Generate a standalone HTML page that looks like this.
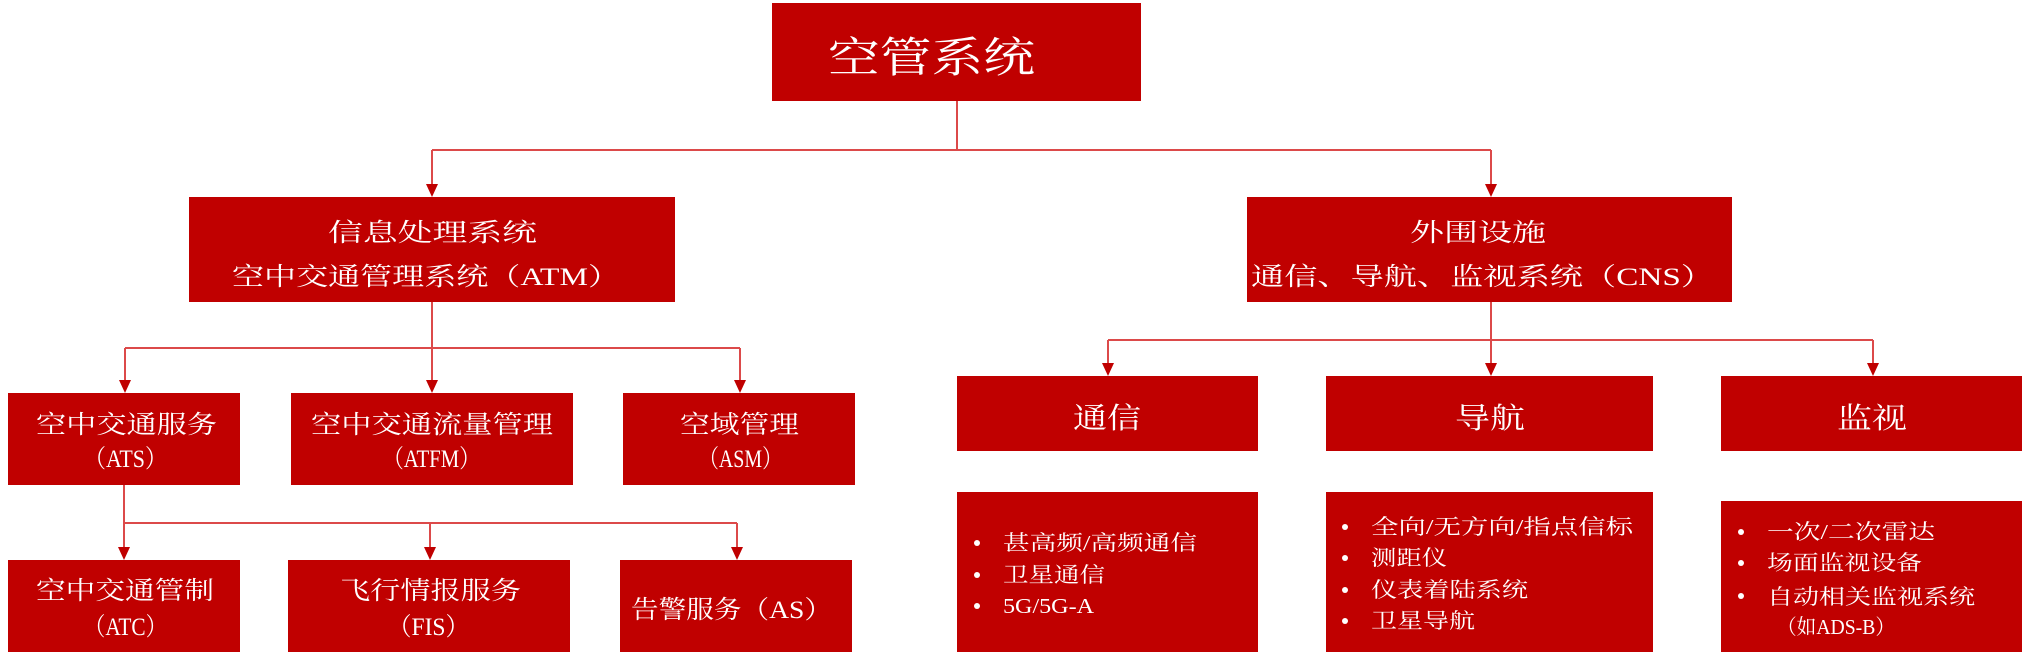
<!DOCTYPE html>
<html><head><meta charset="utf-8"><style>
html,body{margin:0;padding:0;background:#fff;}
svg{display:block;}
text{font-family:"Liberation Serif","Noto Serif CJK SC",serif;fill:#fff;}
</style></head><body>
<svg width="2029" height="655" viewBox="0 0 2029 655" xmlns="http://www.w3.org/2000/svg">
<g fill="#c00000">
<rect x="772" y="3" width="369" height="98"/>
<rect x="189" y="197" width="486" height="105"/>
<rect x="1247" y="197" width="485" height="105"/>
<rect x="8" y="393" width="232" height="92"/>
<rect x="291" y="393" width="282" height="92"/>
<rect x="623" y="393" width="232" height="92"/>
<rect x="8" y="560" width="232" height="92"/>
<rect x="288" y="560" width="282" height="92"/>
<rect x="620" y="560" width="232" height="92"/>
<rect x="957" y="376" width="301" height="75"/>
<rect x="1326" y="376" width="327" height="75"/>
<rect x="1721" y="376" width="301" height="75"/>
<rect x="957" y="492" width="301" height="160"/>
<rect x="1326" y="492" width="327" height="160"/>
<rect x="1721" y="501" width="301" height="151"/>
</g>
<g stroke="#dc4a4a" stroke-width="2" fill="none">
<path d="M957 101V150M432 150H1491M432 150V186M1491 150V186"/>
<path d="M432 302V381M125 348H740M125 348V381M740 348V381"/>
<path d="M124 485V523H737M124 523V548M430 523V548M737 523V548"/>
<path d="M1491 302V364M1108 340H1873M1108 340V364M1873 340V364"/>
</g>
<g fill="#c00000">
<path d="M426 184h12l-6 13z"/><path d="M1485 184h12l-6 13z"/>
<path d="M119 380h12l-6 13z"/><path d="M426 380h12l-6 13z"/><path d="M734 380h12l-6 13z"/>
<path d="M118 547h12l-6 13z"/><path d="M424 547h12l-6 13z"/><path d="M731 547h12l-6 13z"/>
<path d="M1102 363h12l-6 13z"/><path d="M1485 363h12l-6 13z"/><path d="M1867 363h12l-6 13z"/>
</g>
<g>
<text x="828" y="72" font-size="42" textLength="207" lengthAdjust="spacingAndGlyphs">空管系统</text>
<text x="328" y="241" font-size="25" textLength="209" lengthAdjust="spacingAndGlyphs">信息处理系统</text>
<text x="232" y="285" font-size="25" textLength="388" lengthAdjust="spacingAndGlyphs">空中交通管理系统（ATM）</text>
<text x="1410" y="241" font-size="25" textLength="136" lengthAdjust="spacingAndGlyphs">外围设施</text>
<text x="1251" y="285" font-size="25" textLength="463" lengthAdjust="spacingAndGlyphs">通信、导航、监视系统（CNS）</text>
<text x="36" y="433" font-size="25" textLength="181" lengthAdjust="spacingAndGlyphs">空中交通服务</text>
<text x="84" y="467" font-size="25" textLength="83" lengthAdjust="spacingAndGlyphs">（ATS）</text>
<text x="311" y="433" font-size="25" textLength="242" lengthAdjust="spacingAndGlyphs">空中交通流量管理</text>
<text x="383" y="467" font-size="25" textLength="97" lengthAdjust="spacingAndGlyphs">（ATFM）</text>
<text x="680" y="433" font-size="25" textLength="119" lengthAdjust="spacingAndGlyphs">空域管理</text>
<text x="699" y="467" font-size="25" textLength="83" lengthAdjust="spacingAndGlyphs">（ASM）</text>
<text x="36" y="599" font-size="25" textLength="178" lengthAdjust="spacingAndGlyphs">空中交通管制</text>
<text x="84" y="635" font-size="25" textLength="83" lengthAdjust="spacingAndGlyphs">（ATC）</text>
<text x="340" y="599" font-size="25" textLength="181" lengthAdjust="spacingAndGlyphs">飞行情报服务</text>
<text x="388" y="635" font-size="25" textLength="81" lengthAdjust="spacingAndGlyphs">（FIS）</text>
<text x="631" y="618" font-size="25" textLength="201" lengthAdjust="spacingAndGlyphs">告警服务（AS）</text>
<text x="1073" y="428" font-size="29" textLength="68" lengthAdjust="spacingAndGlyphs">通信</text>
<text x="1455" y="428" font-size="29" textLength="70" lengthAdjust="spacingAndGlyphs">导航</text>
<text x="1837" y="428" font-size="29" textLength="70" lengthAdjust="spacingAndGlyphs">监视</text>
</g>
<g font-size="21">
<circle cx="977" cy="543" r="3" fill="#fff"/><circle cx="977" cy="575" r="3" fill="#fff"/><circle cx="977" cy="606" r="3" fill="#fff"/>
<text x="1003" y="550" textLength="194" lengthAdjust="spacingAndGlyphs">甚高频/高频通信</text>
<text x="1003" y="582" textLength="102" lengthAdjust="spacingAndGlyphs">卫星通信</text>
<text x="1003" y="613" textLength="91" lengthAdjust="spacingAndGlyphs">5G/5G-A</text>
<circle cx="1345" cy="527" r="3" fill="#fff"/><circle cx="1345" cy="558" r="3" fill="#fff"/><circle cx="1345" cy="590" r="3" fill="#fff"/><circle cx="1345" cy="621" r="3" fill="#fff"/>
<text x="1371" y="534" textLength="262" lengthAdjust="spacingAndGlyphs">全向/无方向/指点信标</text>
<text x="1371" y="565" textLength="76" lengthAdjust="spacingAndGlyphs">测距仪</text>
<text x="1371" y="597" textLength="157" lengthAdjust="spacingAndGlyphs">仪表着陆系统</text>
<text x="1371" y="628" textLength="104" lengthAdjust="spacingAndGlyphs">卫星导航</text>
<circle cx="1741" cy="532" r="3" fill="#fff"/><circle cx="1741" cy="563" r="3" fill="#fff"/><circle cx="1741" cy="596" r="3" fill="#fff"/>
<text x="1767" y="539" textLength="168" lengthAdjust="spacingAndGlyphs">一次/二次雷达</text>
<text x="1767" y="570" textLength="155" lengthAdjust="spacingAndGlyphs">场面监视设备</text>
<text x="1767" y="604" textLength="208" lengthAdjust="spacingAndGlyphs">自动相关监视系统</text>
<text x="1777" y="634" textLength="118" lengthAdjust="spacingAndGlyphs">（如ADS-B）</text>
</g>
</svg>
</body></html>
